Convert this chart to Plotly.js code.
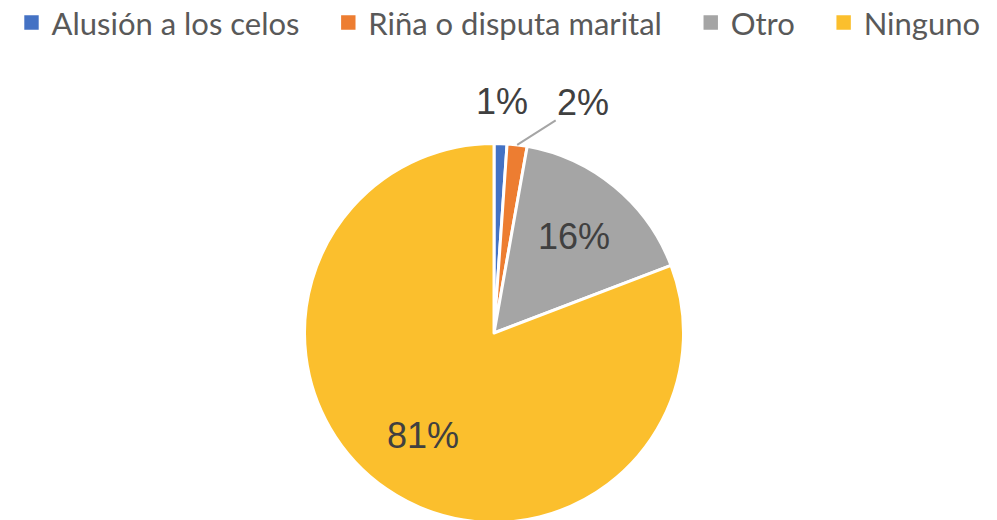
<!DOCTYPE html>
<html>
<head>
<meta charset="utf-8">
<script src="https://cdn.plot.ly/plotly-3.0.1.min.js"></script>
<style>html,body{margin:0;padding:0;background:#fff;overflow:hidden;}#chart{width:997px;height:520px;overflow:hidden;}</style>
</head>
<body>
<div id="chart"></div>
<script>
const categories = ["Alusión a los celos", "Riña o disputa marital", "Otro", "Ninguno"];
const shares = [1.1, 1.7, 16.4, 80.8];
const colors = ["#4472C4", "#ED7D31", "#A5A5A5", "#FBBF2D"];
const labelPlacement = ["outside", "leader", "inside", "inside"];

const W = 997, H = 524;
const domX = [0.3054, 0.6856], domY = [0.0029, 0.7262];

// legend spacing padding (visual gap after each entry except last)
const pad = "\u00A0\u00A0\u00A0";
const legendLabels = categories.map((c, i) => i < categories.length - 1 ? c + pad : c);

const trace = {
  type: "pie",
  labels: legendLabels,
  values: shares,
  sort: false,
  direction: "clockwise",
  rotation: 0,
  marker: {colors: colors, line: {color: "#ffffff", width: 3}},
  textinfo: "none",
  domain: {x: domX, y: domY},
  hoverinfo: "label+percent"
};

// label positions computed from the data through the pie geometry
const cx = W * (domX[0] + domX[1]) / 2;
const cy = H * (1 - (domY[0] + domY[1]) / 2);
const R = Math.min(W * (domX[1] - domX[0]), H * (domY[1] - domY[0])) / 2;
const total = shares.reduce((a, b) => a + b, 0);
const labelFont = {family: "Liberation Sans, Arial, sans-serif", size: 36, color: "#404040"};
const annotations = [];
let cum = 0;
shares.forEach((v, i) => {
  const mid = (cum + v / 2) / total;
  cum += v;
  const th = 2 * Math.PI * mid;
  const dx = Math.sin(th), dy = -Math.cos(th);
  const txt = Math.round(100 * v / total) + "%";
  const mode = labelPlacement[i];
  if (mode === "inside") {
    const k = 0.66 * R;
    annotations.push({xref: "paper", yref: "paper", x: (cx + dx * k) / W, y: 1 - (cy + dy * k) / H,
      text: txt, showarrow: false, font: labelFont, xanchor: "center", yanchor: "middle"});
  } else if (mode === "outside") {
    const k = 1.22 * R;
    annotations.push({xref: "paper", yref: "paper", x: (cx + dx * k) / W, y: 1 - (cy + dy * k) / H,
      text: txt, showarrow: false, font: labelFont, xanchor: "center", yanchor: "middle"});
  } else {
    const k = 1.0 * R;
    annotations.push({xref: "paper", yref: "paper", x: (cx + dx * k) / W, y: 1 - (cy + dy * k) / H,
      text: txt, showarrow: true, arrowhead: 0, arrowwidth: 2, arrowcolor: "#A5A5A5",
      ax: 66, ay: -42, standoff: 0, font: labelFont, xanchor: "center", yanchor: "middle"});
  }
});

const layout = {
  width: W, height: H,
  margin: {l: 0, r: 0, t: 0, b: 0, autoexpand: false},
  paper_bgcolor: "#ffffff",
  showlegend: true,
  legend: {
    orientation: "h", x: 0.5, xanchor: "center", y: 1.008, yanchor: "top",
    font: {family: "Lato, Carlito, Calibri, sans-serif", size: 31, color: "#595959"},
    itemwidth: 30, traceorder: "normal"
  },
  annotations: annotations
};

Plotly.newPlot("chart", [trace], layout, {displayModeBar: false, staticPlot: true}).then(function () {
  // enlarge the legend colour squares to match the reference symbol size
  document.querySelectorAll("#chart .legend .legendpoints path").forEach(function (p) {
    const t = p.getAttribute("transform") || "";
    p.setAttribute("transform", t + " scale(1.6)");
  });
});
</script>
</body>
</html>
